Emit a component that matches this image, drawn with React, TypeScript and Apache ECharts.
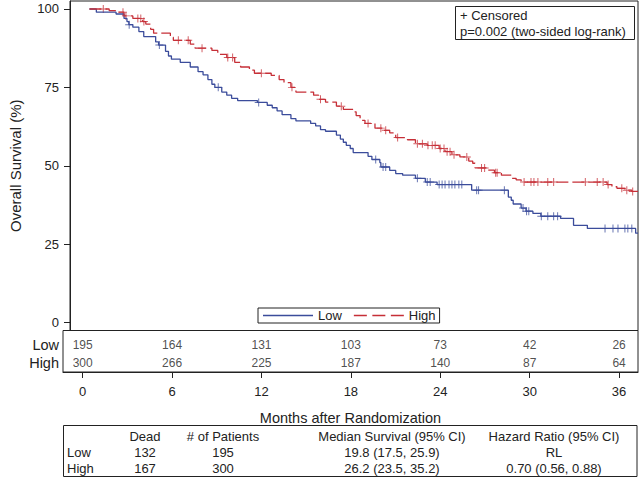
import React, { useEffect, useRef } from 'react';
import * as echarts from 'echarts';

// ---------- data ----------
const monthTicks = [0, 6, 12, 18, 24, 30, 36];
const survivalTicks = [0, 25, 50, 75, 100];
const groups = ['Low', 'High'];

// Kaplan-Meier step points (month, survival % after the drop)
const lowTimes = [0.47, 1.81, 2.35, 2.55, 2.68, 2.95, 3.36, 3.69, 4.5, 4.7, 5.17, 5.37, 5.57, 6.17, 6.85, 7.38, 7.72, 8.05, 8.32, 8.52, 8.99, 9.33, 9.66, 10.07, 11.41, 12.08, 12.42, 12.75, 13.09, 13.69, 14.03, 15.03, 15.37, 15.7, 16.04, 16.78, 17.05, 17.25, 17.45, 17.72, 17.92, 18.93, 19.19, 19.73, 19.8, 20.4, 20.81, 21.28, 22.15, 22.82, 23.62, 25.97, 28.46, 28.66, 28.79, 29.33, 29.66, 30.13, 30.67, 32.01, 32.89, 33.83, 37.11];
const lowSurv = [99.0, 98.4, 97.0, 96.0, 95.0, 94.2, 92.8, 91.2, 89.5, 88.5, 86.5, 85.0, 84.0, 83.0, 81.5, 80.0, 79.0, 77.5, 76.0, 75.0, 73.5, 72.5, 71.5, 70.8, 70.2, 69.3, 68.5, 67.5, 66.3, 65.0, 64.3, 63.5, 62.7, 61.5, 61.0, 59.8, 58.5, 57.5, 56.5, 55.5, 54.2, 53.0, 52.0, 51.0, 49.6, 48.5, 47.5, 47.0, 46.0, 44.8, 44.0, 42.2, 40.0, 39.0, 37.8, 36.5, 35.5, 34.8, 33.9, 33.2, 31.0, 30.0, 28.5];

const highTimes = [1.34, 1.95, 2.35, 2.95, 3.62, 3.83, 4.16, 4.36, 5.5, 5.7, 6.85, 7.18, 8.32, 8.72, 9.33, 9.87, 10.27, 10.87, 11.21, 12.35, 12.89, 13.22, 13.69, 14.03, 15.23, 15.57, 16.04, 16.78, 17.25, 17.92, 18.12, 18.39, 18.72, 19.4, 19.93, 20.4, 20.81, 21.61, 22.15, 22.95, 23.76, 24.16, 24.63, 25.17, 25.77, 26.04, 26.2, 26.98, 27.52, 27.99, 28.66, 28.99, 29.33, 35.17, 35.5, 35.84, 36.38, 36.85];
const highSurv = [99.5, 99.0, 97.8, 97.0, 96.0, 95.2, 93.5, 92.3, 91.0, 90.0, 88.8, 87.5, 86.8, 85.5, 84.5, 83.0, 81.5, 80.5, 79.5, 78.8, 77.5, 76.5, 75.0, 73.5, 72.5, 71.2, 70.3, 69.0, 68.0, 67.2, 66.0, 64.5, 63.5, 62.0, 61.3, 60.5, 59.0, 58.3, 57.0, 56.5, 55.5, 54.5, 53.5, 52.8, 51.5, 50.8, 49.3, 48.6, 47.8, 47.0, 46.0, 45.5, 44.8, 44.0, 43.3, 42.8, 42.2, 41.8];

// censoring times (months)
const lowCensor = [2.7, 4.75, 8.75, 11.5, 19.45, 19.95, 20.13, 22.28, 22.95, 23.15, 23.76, 23.96, 24.16, 24.43, 24.63, 24.83, 25.1, 25.3, 26.31, 26.44, 28.19, 29.46, 29.7, 29.85, 30.7, 31.14, 31.54, 31.81, 35.03, 35.57, 35.91, 36.38, 36.58, 36.85];
const highCensor = [0.94, 2.28, 2.48, 3.29, 3.49, 3.7, 6.04, 6.71, 7.65, 9.4, 9.73, 11.68, 13.76, 15.7, 17.11, 18.93, 19.8, 20.13, 20.94, 22.28, 22.62, 23.0, 23.29, 23.49, 23.83, 24.09, 24.3, 24.5, 24.77, 25.64, 26.64, 26.85, 27.6, 27.7, 29.53, 30.0, 30.2, 30.47, 31.14, 31.54, 33.69, 34.5, 34.9, 35.24, 36.17, 36.51, 36.91];

// numbers at risk at each month tick
const lowAtRisk = [195, 164, 131, 103, 73, 42, 26];
const highAtRisk = [300, 266, 225, 187, 140, 87, 64];

// summary table
const tableHeaders = ['Dead', '# of Patients', 'Median Survival (95% CI)', 'Hazard Ratio (95% CI)'];
const lowRow = ['132', '195', '19.8 (17.5, 25.9)', 'RL'];
const highRow = ['167', '300', '26.2 (23.5, 35.2)', '0.70 (0.56, 0.88)'];
const censoredText = '+ Censored';
const pValueText = 'p=0.002 (two-sided log-rank)';

// ---------- styling / layout ----------
const FONT = '"Liberation Sans", Arial, Helvetica, sans-serif';
const INK = '#222';
const BLUE = '#3b4c9b';
const RED = '#c62f37';
const X_MIN = -1.32;
const X_MAX = 37.27;
const ROW_LOW = 14.5;
const ROW_HIGH = 32.8;
const COL_X = [145, 223, 392, 554];
const ICON_SOLID = 'path://M0,0H50V1.5H0Z';
const ICON_DASH = 'path://M0,0H13V1.5H0ZM18.5,0H31.5V1.5H18.5ZM37,0H50V1.5H37Z';

function stepData(times: number[], surv: number[]) {
  const d: number[][] = [[0, 100]];
  times.forEach((t, i) => d.push([t, surv[i]]));
  d.push([X_MAX, surv[surv.length - 1]]);
  return d;
}
function survAt(times: number[], surv: number[], t: number) {
  let v = 100;
  for (let i = 0; i < times.length; i++) if (times[i] <= t) v = surv[i];
  return v;
}

const PLUS = 'path://M-0.12,-1H0.12V-0.12H1V0.12H0.12V1H-0.12V0.12H-1V-0.12H-0.12Z';

export default function App() {
  const ref = useRef<HTMLDivElement>(null);
  useEffect(() => {
    if (!ref.current) return;
    const chart = echarts.init(ref.current, null, { renderer: 'svg' });
    const txt = (text: string, x: number, y: number, align = 'center', size = 13) => ({
      type: 'text', x, y, silent: true,
      style: { text, fontSize: size, fontFamily: FONT, fill: INK, align, verticalAlign: 'middle' },
    });
    const graphics: any[] = [
      { type: 'rect', shape: { x: 455.5, y: 6.5, width: 179, height: 33 }, style: { fill: '#fff', stroke: INK, lineWidth: 1 }, z: 50 },
      { ...txt(censoredText, 460, 15, 'left'), z: 51 },
      { ...txt(pValueText, 460, 31, 'left'), z: 51 },
      { type: 'rect', shape: { x: 63.5, y: 425.5, width: 573.5, height: 51 }, style: { fill: 'none', stroke: INK, lineWidth: 1 } },
    ];
    tableHeaders.forEach((h, i) => graphics.push(txt(h, COL_X[i], 436)));
    graphics.push(txt(groups[0], 67, 452, 'left'));
    graphics.push(txt(groups[1], 67, 468, 'left'));
    lowRow.forEach((c, i) => graphics.push(txt(c, COL_X[i], 452)));
    highRow.forEach((c, i) => graphics.push(txt(c, COL_X[i], 468)));

    const option: any = {
      animation: false,
      textStyle: { fontFamily: FONT },
      grid: [
        { left: 63, top: 1, right: 2, height: 329.5, show: true, borderColor: INK, borderWidth: 1 },
        { left: 63, top: 330.5, right: 2, height: 41.5, show: true, borderColor: INK, borderWidth: 1 },
      ],
      xAxis: [
        { gridIndex: 0, type: 'value', min: X_MIN, max: X_MAX, axisLine: { show: false }, axisTick: { show: false }, axisLabel: { show: false }, splitLine: { show: false } },
        {
          gridIndex: 1, type: 'value', min: X_MIN, max: X_MAX,
          axisLine: { show: true, onZero: false, lineStyle: { color: INK } },
          axisTick: { show: true, length: 6, customValues: monthTicks, lineStyle: { color: INK } },
          axisLabel: { customValues: monthTicks, margin: 13, fontSize: 13, color: INK },
          splitLine: { show: false },
          name: 'Months after Randomization', nameLocation: 'middle', nameGap: 38,
          nameTextStyle: { fontSize: 14.5, color: INK },
        },
      ],
      yAxis: [
        {
          gridIndex: 0, type: 'value', min: -2.55, max: 102.55,
          axisLine: { show: true, onZero: false, lineStyle: { color: INK } },
          axisTick: { show: true, length: 6, customValues: survivalTicks, lineStyle: { color: INK } },
          axisLabel: { customValues: survivalTicks, margin: 11, fontSize: 13, color: INK },
          splitLine: { show: false },
          name: 'Overall Survival (%)', nameLocation: 'middle', nameGap: 47,
          nameTextStyle: { fontSize: 15, color: INK },
        },
        {
          gridIndex: 1, type: 'value', min: 0, max: 41.5, inverse: true,
          axisLine: { show: false }, axisTick: { show: false }, splitLine: { show: false },
          axisLabel: {
            customValues: [ROW_LOW, ROW_HIGH], margin: 4, fontSize: 14.5, color: INK,
            formatter: (v: number) => (v === ROW_LOW ? groups[0] : groups[1]),
          },
        },
      ],
      legend: {
        data: [
          { name: groups[0], icon: ICON_SOLID },
          { name: groups[1], icon: ICON_DASH },
        ],
        left: 258, top: 308, itemWidth: 50, itemHeight: 1.5, itemGap: 12,
        padding: [1, 4, 1, 5], borderColor: INK, borderWidth: 1, backgroundColor: '#fff',
        textStyle: { fontSize: 13, color: INK, fontFamily: FONT },
      },
      series: [
        {
          name: groups[0], type: 'line', step: 'end', xAxisIndex: 0, yAxisIndex: 0,
          data: stepData(lowTimes, lowSurv), symbol: 'none', color: BLUE,
          lineStyle: { color: BLUE, width: 1.3 },
        },
        {
          name: groups[1], type: 'line', step: 'end', xAxisIndex: 0, yAxisIndex: 0,
          data: stepData(highTimes, highSurv), symbol: 'none', color: RED,
          lineStyle: { color: RED, width: 1.3, type: [12, 4] },
        },
        {
          name: 'Low censored', type: 'scatter', xAxisIndex: 0, yAxisIndex: 0, silent: true,
          data: lowCensor.map((t) => [t, survAt(lowTimes, lowSurv, t)]),
          symbol: PLUS, symbolSize: 8, itemStyle: { color: BLUE },
        },
        {
          name: 'High censored', type: 'scatter', xAxisIndex: 0, yAxisIndex: 0, silent: true,
          data: highCensor.map((t) => [t, survAt(highTimes, highSurv, t)]),
          symbol: PLUS, symbolSize: 8, itemStyle: { color: RED },
        },
        {
          name: 'Low at risk', type: 'scatter', xAxisIndex: 1, yAxisIndex: 1, silent: true,
          data: monthTicks.map((m, i) => [m, ROW_LOW, lowAtRisk[i]]),
          symbolSize: 1, itemStyle: { color: 'rgba(0,0,0,0)' },
          label: { show: true, position: 'inside', formatter: (p: any) => String(p.value[2]), fontSize: 12, color: INK },
        },
        {
          name: 'High at risk', type: 'scatter', xAxisIndex: 1, yAxisIndex: 1, silent: true,
          data: monthTicks.map((m, i) => [m, ROW_HIGH, highAtRisk[i]]),
          symbolSize: 1, itemStyle: { color: 'rgba(0,0,0,0)' },
          label: { show: true, position: 'inside', formatter: (p: any) => String(p.value[2]), fontSize: 12, color: INK },
        },
      ],
      graphic: graphics,
    };
    chart.setOption(option);
    return () => chart.dispose();
  }, []);
  return <div ref={ref} style={{ width: 640, height: 478, position: 'absolute', left: 0, top: 0, background: '#fff' }} />;
}
